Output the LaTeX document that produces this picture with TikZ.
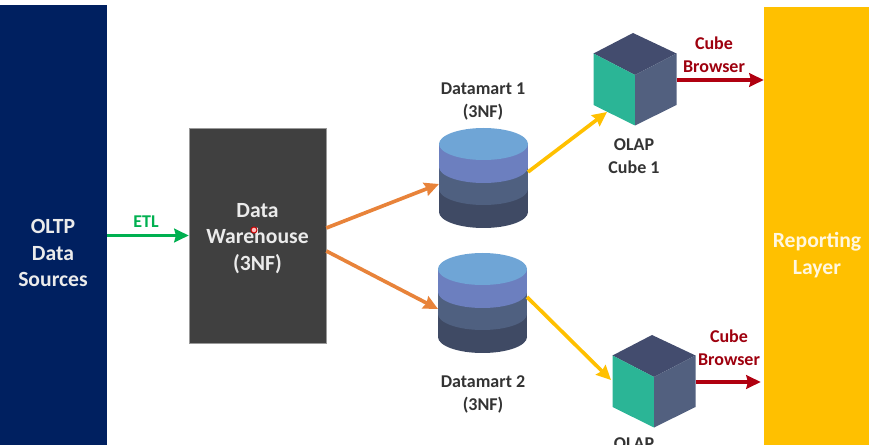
\documentclass[tikz,border=0pt]{standalone}
\usepackage{fontspec}
\setmainfont{Carlito}
\usepackage{tikz}
\usetikzlibrary{arrows.meta,positioning,calc}

\definecolor{navybar}{HTML}{002060}
\definecolor{goldbar}{HTML}{FFC000}
\definecolor{whbox}{HTML}{404040}
\definecolor{cubeteal}{HTML}{2BB596}
\definecolor{cubetop}{HTML}{434C6E}
\definecolor{cubeside}{HTML}{52607F}
\definecolor{dmtop}{HTML}{6FA5D6}
\definecolor{dmone}{HTML}{6C7FBF}
\definecolor{dmtwo}{HTML}{4F6080}
\definecolor{dmthree}{HTML}{3F4A64}
\definecolor{linkgreen}{HTML}{00B050}
\definecolor{linkorange}{HTML}{E8833A}
\definecolor{linkred}{HTML}{B00010}

\begin{document}
\begin{tikzpicture}[
    x=0.025cm, y=-0.025cm,
    bar/.style={minimum width=#1,minimum height=11cm,inner sep=0pt},
    bartext/.style={align=center,font=\bfseries\fontsize{15.4}{18.8}\selectfont,text=#1},
    wh/.style={fill=whbox,draw=gray!80,line width=0.4pt,minimum width=3.425cm,minimum height=5.375cm},
    lbl/.style={align=center,text=black!80,font=\bfseries\fontsize{12.8}{16.2}\selectfont},
    redlbl/.style={lbl,text=linkred!90!black},
    link/.style={-{Stealth[length=3.6mm,width=3.4mm,inset=0.4mm]},line width=2.6pt},
    datamart/.pic={
      \fill[dmthree] (-44.5,45) rectangle (44.5,68);
      \fill[dmthree] (0,68) ellipse [x radius=44.5,y radius=16];
      \fill[dmtwo] (-44.5,23) rectangle (44.5,45);
      \fill[dmtwo] (0,45) ellipse [x radius=44.5,y radius=16];
      \fill[dmone] (-44.5,0) rectangle (44.5,23);
      \fill[dmone] (0,23) ellipse [x radius=44.5,y radius=16];
      \fill[dmtop] (0,0) ellipse [x radius=44.5,y radius=16];
      \coordinate (-in) at (-44.5,40);
      \coordinate (-out) at (44.5,28);
    },
    olapcube/.pic={
      \fill[cubetop] (0,0) -- (-41.5,-21.5) -- (-2,-42) -- (41.5,-21.5) -- cycle;
      \fill[cubeteal] (0,0) -- (-41.5,-21.5) -- (-41.5,30) -- (0,50.5) -- cycle;
      \fill[cubeside] (0,0) -- (41.5,-21.5) -- (41.5,30) -- (0,50.5) -- cycle;
      \coordinate (-sw) at (-28,37);
      \coordinate (-w) at (-43,3);
      \coordinate (-out) at (41.5,5);
    },
  ]
  \useasboundingbox (0,0) rectangle (869,445);

  \node[bar=2.675cm,fill=navybar] (src) at (53.5,225) {};
  \node[bar=2.625cm,fill=goldbar] (rep) at (816.5,227) {};
  \node[wh] (dw) at (257.5,235.5) {};
  \node[bartext=white!92!black] (dwtext) at (257.5,238.5) {Data\\Warehouse\\(3NF)};
  \node[bartext=white!92!black] (srctext) at (53,253) {OLTP\\Data\\Sources};
  \node[bartext=white!88!goldbar] (reptext) at (817,255) {Reporting\\Layer};
  \node[circle,draw=red!80!black,fill=red!25,line width=0.7pt,minimum size=1.5mm,inner sep=0pt] (cursor) at (254,230) {};

  \pic (dm1) at (483.5,144) {datamart};
  \pic (dm2) at (482.5,269) {datamart};
  \pic (cube1) at (635,75) {olapcube};
  \pic (cube2) at (654,377) {olapcube};

  \node[lbl] (dm1text) at (483,101.5) {Datamart 1\\(3NF)};
  \node[lbl] (dm2text) at (483,394.5) {Datamart 2\\(3NF)};
  \node[lbl] (cube1text) at (634,156.5) {OLAP\\Cube 1};
  \node[lbl] (cube2text) at (634,444) {OLAP};
  \node[lbl,text=linkgreen] (etl) at (146,222) {ETL};
  \node[redlbl] (brw1) at (714,55) {Cube\\Browser};
  \node[redlbl] (brw2) at (729,348) {Cube\\Browser};

  \draw[link,linkgreen] (src.east |- dw.west) -- (dw.west);
  \draw[link,linkorange] ($(dw.east)+(0,-7.5)$) -- (dm1-in);
  \draw[link,linkorange] ($(dw.east)+(0,15.5)$) -- (dm2-in);
  \draw[link,goldbar] (dm1-out) -- (cube1-sw);
  \draw[link,goldbar] (dm2-out) -- (cube2-w);
  \draw[link,linkred] (cube1-out) -- (rep.west |- cube1-out);
  \draw[link,linkred] (cube2-out) -- ($(rep.west |- cube2-out)+(-3,0)$);
\end{tikzpicture}
\end{document}
